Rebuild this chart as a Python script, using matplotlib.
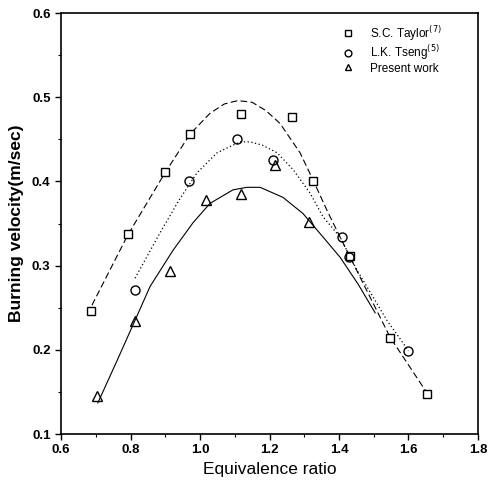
import numpy as np
import matplotlib.pyplot as plt
from matplotlib.ticker import MultipleLocator

plt.rcParams['font.family'] = ['Liberation Sans', 'DejaVu Sans']

# Datos medidos
x_taylor = [0.686, 0.794, 0.899, 0.971, 1.117, 1.266, 1.324, 1.432, 1.546, 1.653]
y_taylor = [0.246, 0.337, 0.411, 0.456, 0.480, 0.476, 0.400, 0.311, 0.214, 0.148]

x_tseng = [0.812, 0.968, 1.107, 1.209, 1.408, 1.430, 1.600]
y_tseng = [0.271, 0.400, 0.450, 0.425, 0.334, 0.310, 0.199]

x_present = [0.705, 0.812, 0.915, 1.017, 1.117, 1.216, 1.315]
y_present = [0.145, 0.234, 0.294, 0.378, 0.385, 0.420, 0.352]

# Curvas de ajuste
xc_taylor = [0.689, 0.793, 0.899, 0.971, 1.029, 1.07, 1.109, 1.15, 1.19, 1.230, 1.288, 1.325, 1.365, 1.403, 1.432, 1.547, 1.653]
yc_taylor = [0.253, 0.337, 0.410, 0.456, 0.481, 0.492, 0.496, 0.494, 0.484, 0.469, 0.434, 0.402, 0.366, 0.334, 0.310, 0.215, 0.149]

xc_tseng = [0.813, 0.885, 0.940, 0.991, 1.049, 1.115, 1.144, 1.180, 1.222, 1.268, 1.317, 1.354, 1.403, 1.450, 1.538, 1.600]
yc_tseng = [0.285, 0.339, 0.378, 0.410, 0.434, 0.447, 0.447, 0.443, 0.434, 0.414, 0.386, 0.358, 0.334, 0.296, 0.235, 0.199]

xc_present = [0.706, 0.760, 0.813, 0.856, 0.922, 0.980, 1.029, 1.095, 1.135, 1.173, 1.239, 1.296, 1.354, 1.403, 1.455, 1.504]
yc_present = [0.137, 0.186, 0.235, 0.275, 0.318, 0.351, 0.374, 0.390, 0.393, 0.393, 0.381, 0.362, 0.334, 0.310, 0.278, 0.244]

fig = plt.figure(figsize=(4.9, 4.91), dpi=100)
ax = fig.add_axes([0.1245, 0.116, 0.851, 0.8575])

ax.plot(xc_taylor, yc_taylor, color='k', lw=0.8, dashes=(6, 3))
ax.plot(xc_tseng, yc_tseng, color='k', lw=0.9, ls=(0, (1, 2)))
ax.plot(xc_present, yc_present, color='k', lw=0.8, ls='-')

ax.plot(x_taylor, y_taylor, 's', ms=6, mfc='white', mec='k', mew=1.0, ls='none',
        label='S.C. Taylor$^{(7)}$')
ax.plot(x_tseng, y_tseng, 'o', ms=6.5, mfc='none', mec='k', mew=1.0, ls='none',
        label='L.K. Tseng$^{(5)}$')
ax.plot(x_present, y_present, '^', ms=6.5, mfc='none', mec='k', mew=1.0, ls='none',
        label='Present work')

ax.set_xlim(0.6, 1.8)
ax.set_ylim(0.1, 0.6)
ax.xaxis.set_major_locator(MultipleLocator(0.2))
ax.xaxis.set_minor_locator(MultipleLocator(0.1))
ax.yaxis.set_major_locator(MultipleLocator(0.1))
ax.yaxis.set_minor_locator(MultipleLocator(0.05))
ax.set_xticklabels([f'{v:.1f}' for v in ax.get_xticks()])
ax.tick_params(which='major', direction='out', length=4, width=1, labelsize=9.5)
ax.tick_params(which='minor', direction='out', length=2.5, width=0.8)
for lab in ax.get_xticklabels() + ax.get_yticklabels():
    lab.set_fontweight('bold')
for s in ax.spines.values():
    s.set_linewidth(1.2)

ax.set_xlabel('Equivalence ratio', fontsize=12.5, labelpad=4)
ax.set_ylabel('Burning velocity(m/sec)', fontsize=12.5, fontweight='bold', labelpad=6)

ax.legend(loc='upper right', frameon=False, fontsize=8.5, handletextpad=0.9,
          borderaxespad=0.5, bbox_to_anchor=(0.94, 1.0), labelspacing=0.05,
          markerscale=0.75)

fig.savefig('out.png', dpi=100)
